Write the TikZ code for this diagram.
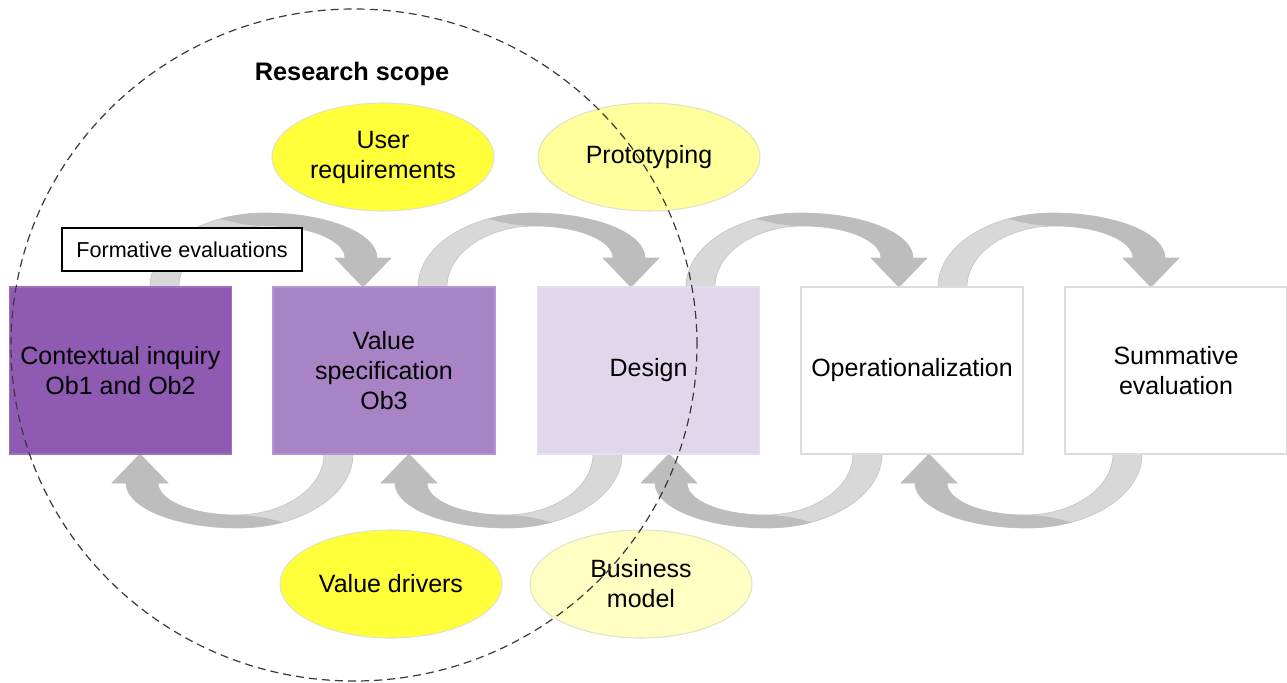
\documentclass[tikz,border=0pt]{standalone}
\usepackage{fontspec}
\setmainfont{Liberation Sans}
\usetikzlibrary{shapes.geometric}
\definecolor{boxA}{HTML}{8E5AB2}
\definecolor{boxAline}{HTML}{9C72BE}
\definecolor{boxB}{HTML}{A883C5}
\definecolor{boxBline}{HTML}{B596CF}
\definecolor{boxC}{HTML}{E1D6EC}
\definecolor{boxCline}{HTML}{E6DDF0}
\definecolor{boxline}{HTML}{DCDCDC}
\definecolor{yelA}{HTML}{FFFF3A}
\definecolor{yelB}{HTML}{FFFF9C}
\definecolor{yelC}{HTML}{FFFFC4}
\definecolor{ovalline}{HTML}{E2E2C8}
\definecolor{arrlight}{HTML}{D8D8D8}
\definecolor{arrlightline}{HTML}{C6C6C6}
\definecolor{arrdark}{HTML}{BDBDBD}
\definecolor{scopeline}{HTML}{3A3A3A}
\newcommand{\mainsize}{\fontsize{18.75}{22.5}\selectfont}
\begin{document}
\begin{tikzpicture}[x=0.75pt,y=-0.75pt,
  stagebox/.style={rectangle, minimum width=166.5pt, minimum height=125.25pt,
    line width=1.1pt, align=center, font=\mainsize, inner sep=0pt},
  oval/.style={ellipse, minimum width=166.5pt, minimum height=81pt,
    draw=ovalline, line width=0.8pt, align=center, font=\mainsize, inner sep=0pt},
  curvedarrow/.pic={
    \fill[arrlight, draw=arrlightline, line width=0.5pt]
      (0,0) .. controls (0,-40.8) and (51.5,-74) .. (115,-74)
      .. controls (176.8,-74) and (227,-53.8) .. (227,-29)
      -- (241,-29) -- (213,0) -- (185,-29) -- (195,-29)
      .. controls (195,-46.7) and (160,-61) .. (117,-61)
      .. controls (68.4,-61) and (29,-33.7) .. (29,0) -- cycle;
    \fill[arrdark]
      (70.25,-68.3) .. controls (84,-72.1) and (99.1,-74) .. (115,-74)
      .. controls (176.8,-74) and (227,-53.8) .. (227,-29)
      -- (241,-29) -- (213,0) -- (185,-29) -- (195,-29)
      .. controls (195,-46.7) and (160,-61) .. (117,-61)
      .. controls (100,-61) and (85,-64) .. (70.25,-68.3) -- cycle;
  }
]
\useasboundingbox (0,0) rectangle (1287,682);
\fill[white] (0,0) rectangle (1287,682);

% curved arrows (top: forward, bottom: backward)
\pic at (150,287) {curvedarrow};
\pic at (418,287) {curvedarrow};
\pic at (686,287) {curvedarrow};
\pic at (938,287) {curvedarrow};
\pic[rotate=180] at (353,454) {curvedarrow};
\pic[rotate=180] at (622,454) {curvedarrow};
\pic[rotate=180] at (882,454) {curvedarrow};
\pic[rotate=180] at (1142,454) {curvedarrow};

% stages
\node[stagebox, fill=boxA, draw=boxAline] (ci) at (120.5,370.5) {Contextual inquiry\\Ob1 and Ob2};
\node[stagebox, fill=boxB, draw=boxBline] (vs) at (384,370.5) {Value\\specification\\Ob3};
\node[stagebox, fill=boxC, draw=boxCline] (de) at (648.5,370.5) {Design};
\node[stagebox, fill=white, draw=boxline] (op) at (912,370.5) {Operationalization};
\node[stagebox, fill=white, draw=boxline] (se) at (1176,370.5) {Summative\\evaluation};

% ovals
\node[oval, fill=yelA] (ur) at (383,157) {User\\requirements};
\node[oval, fill=yelB] (pr) at (649,157) {Prototyping};
\node[oval, fill=yelA] (vd) at (391,584) {Value drivers};
\node[oval, fill=yelC] (bm) at (641,584) {Business\\model};

% labels
\node[draw=black, fill=white, line width=0.9pt, minimum width=180pt, minimum height=32.25pt,
  inner sep=0pt, font=\fontsize{16.2}{19}\selectfont] (fe) at (182,249.5) {Formative evaluations};
\node[font=\fontsize{19}{22}\selectfont\bfseries] (rs) at (352,74) {Research scope};

% research scope boundary
\node[ellipse, draw=scopeline, line width=0.9pt, dash pattern=on 6pt off 3.8pt,
  minimum width=514.5pt, minimum height=504pt, inner sep=0pt] (scopering) at (354,345) {};
\end{tikzpicture}
\end{document}
